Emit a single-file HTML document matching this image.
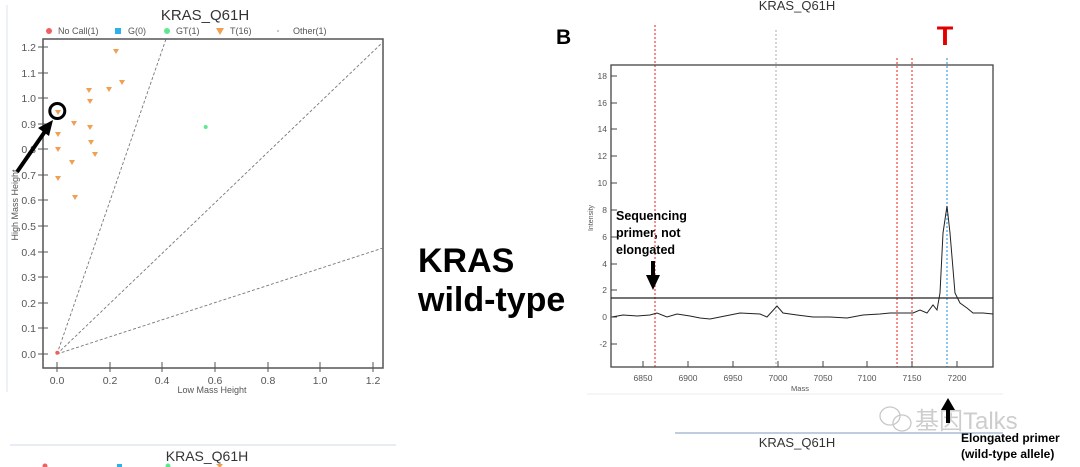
<!DOCTYPE html>
<html><head><meta charset="utf-8"><style>
html,body{margin:0;padding:0;background:#fff;}
svg{display:block;font-family:"Liberation Sans","Noto Sans CJK SC",sans-serif;}
</style></head><body>
<svg width="1080" height="467" viewBox="0 0 1080 467" xmlns="http://www.w3.org/2000/svg">
<rect width="1080" height="467" fill="#fff"/>
<!-- LEFT CHART -->
<line x1="7" y1="5" x2="7" y2="392" stroke="#dde6f0" stroke-width="1"/>
<text x="205" y="20" font-size="15" fill="#333" text-anchor="middle">KRAS_Q61H</text>
<g font-size="9" fill="#555">
<circle cx="49" cy="31" r="3" fill="#f06060"/><text x="58" y="34">No Call(1)</text>
<rect x="115" y="28" width="6" height="6" fill="#30b0e8"/><text x="128" y="34">G(0)</text>
<circle cx="167" cy="31" r="3" fill="#60e890"/><text x="176" y="34">GT(1)</text>
<path d="M216,28 L224,28 L220,35 Z" fill="#f0a050"/><text x="230" y="34">T(16)</text>
<circle cx="278" cy="31" r="0.8" fill="#888"/><text x="293" y="34">Other(1)</text>
</g>
<rect x="43" y="39" width="340" height="329" fill="none" stroke="#555" stroke-width="1.5"/>
<g stroke="#555" stroke-width="1">
<line x1="38" y1="354" x2="48" y2="354"/><line x1="38" y1="328" x2="48" y2="328"/><line x1="38" y1="303" x2="48" y2="303"/><line x1="38" y1="277" x2="48" y2="277"/><line x1="38" y1="252" x2="48" y2="252"/><line x1="38" y1="226" x2="48" y2="226"/><line x1="38" y1="200" x2="48" y2="200"/><line x1="38" y1="175" x2="48" y2="175"/><line x1="38" y1="149" x2="48" y2="149"/><line x1="38" y1="124" x2="48" y2="124"/><line x1="38" y1="98" x2="48" y2="98"/><line x1="38" y1="73" x2="48" y2="73"/><line x1="38" y1="47" x2="48" y2="47"/>
<line x1="57" y1="362" x2="57" y2="372"/><line x1="110" y1="362" x2="110" y2="372"/><line x1="162" y1="362" x2="162" y2="372"/><line x1="215" y1="362" x2="215" y2="372"/><line x1="268" y1="362" x2="268" y2="372"/><line x1="320" y1="362" x2="320" y2="372"/><line x1="373" y1="362" x2="373" y2="372"/>
</g>
<g font-size="10.5" fill="#555" text-anchor="end">
<text x="36" y="358">0.0</text><text x="36" y="332">0.1</text><text x="36" y="307">0.2</text><text x="36" y="281">0.3</text><text x="36" y="256">0.4</text><text x="36" y="230">0.5</text><text x="36" y="204">0.6</text><text x="36" y="179">0.7</text><text x="36" y="153">0.8</text><text x="36" y="128">0.9</text><text x="36" y="102">1.0</text><text x="36" y="77">1.1</text><text x="36" y="51">1.2</text>
</g>
<g font-size="10.5" fill="#555" text-anchor="middle">
<text x="57" y="384">0.0</text><text x="110" y="384">0.2</text><text x="162" y="384">0.4</text><text x="215" y="384">0.6</text><text x="268" y="384">0.8</text><text x="320" y="384">1.0</text><text x="373" y="384">1.2</text>
<text x="212" y="393" font-size="9">Low Mass Height</text>
</g>
<text transform="translate(18,205) rotate(-90)" font-size="9" fill="#555" text-anchor="middle">High Mass Height</text>
<g stroke="#777" stroke-width="0.9" stroke-dasharray="3,2" fill="none">
<line x1="57" y1="354" x2="166" y2="39"/>
<line x1="57" y1="354" x2="383" y2="42"/>
<line x1="57" y1="354" x2="383" y2="248"/>
</g>
<g fill="#f0a050">
<path d="M113,49 l6,0 l-3,5 z"/>
<path d="M119,80 l6,0 l-3,5 z"/>
<path d="M86,88 l6,0 l-3,5 z"/>
<path d="M106,87 l6,0 l-3,5 z"/>
<path d="M87,99 l6,0 l-3,5 z"/>
<path d="M55,110 l6,0 l-3,5 z"/>
<path d="M71,121 l6,0 l-3,5 z"/>
<path d="M87,125 l6,0 l-3,5 z"/>
<path d="M55,132 l6,0 l-3,5 z"/>
<path d="M88,140 l6,0 l-3,5 z"/>
<path d="M55,147 l6,0 l-3,5 z"/>
<path d="M92,152 l6,0 l-3,5 z"/>
<path d="M69,160 l6,0 l-3,5 z"/>
<path d="M55,176 l6,0 l-3,5 z"/>
<path d="M72,195 l6,0 l-3,5 z"/>
</g>
<circle cx="205.7" cy="127" r="2" fill="#60e890"/>
<circle cx="57.3" cy="352.7" r="2" fill="#f06060"/>
<circle cx="57.3" cy="111" r="7.5" fill="none" stroke="#000" stroke-width="3"/>
<line x1="17" y1="172" x2="46" y2="130" stroke="#000" stroke-width="4"/>
<path d="M53,120 L38,128 L49,136 Z" fill="#000"/>
<!-- bottom left -->
<line x1="10" y1="445" x2="396" y2="445" stroke="#cfdbe8" stroke-width="1"/>
<text x="207" y="461" font-size="14" fill="#333" text-anchor="middle">KRAS_Q61H</text>
<g><circle cx="45" cy="466" r="2.5" fill="#f06060"/><rect x="117" y="464" width="5" height="4" fill="#30b0e8"/><circle cx="168" cy="466" r="2.5" fill="#60e890"/><path d="M216,464 L223,464 L220,468Z" fill="#f0a050"/></g>
<!-- MIDDLE TEXT -->
<text x="418" y="272" font-size="34" font-weight="bold" fill="#000">KRAS</text>
<text x="418" y="311" font-size="34" font-weight="bold" fill="#000">wild-type</text>
<text x="556" y="44" font-size="21" font-weight="bold" fill="#000">B</text>
<!-- RIGHT CHART -->
<text x="797" y="10" font-size="13" fill="#333" text-anchor="middle">KRAS_Q61H</text>
<text x="945" y="45" font-size="27" font-weight="bold" fill="#e00000" text-anchor="middle">T</text>
<g stroke-dasharray="2,2" stroke-width="1.2" fill="none">
<line x1="655" y1="25" x2="655" y2="367" stroke="#f04040"/>
<line x1="776" y1="30" x2="776" y2="367" stroke="#b8b8b8"/>
<line x1="897" y1="58" x2="897" y2="367" stroke="#f04040"/>
<line x1="912" y1="58" x2="912" y2="367" stroke="#f04040"/>
<line x1="947" y1="58" x2="947" y2="367" stroke="#40a0e0"/>
</g>
<rect x="611" y="65" width="382" height="302" fill="none" stroke="#444" stroke-width="1.3"/>
<g stroke="#444" stroke-width="1">
<line x1="611" y1="76" x2="617" y2="76"/><line x1="611" y1="103" x2="617" y2="103"/><line x1="611" y1="129" x2="617" y2="129"/><line x1="611" y1="156" x2="617" y2="156"/><line x1="611" y1="183" x2="617" y2="183"/><line x1="611" y1="210" x2="617" y2="210"/><line x1="611" y1="237" x2="617" y2="237"/><line x1="611" y1="264" x2="617" y2="264"/><line x1="611" y1="290" x2="617" y2="290"/><line x1="611" y1="317" x2="617" y2="317"/><line x1="611" y1="344" x2="617" y2="344"/>
<line x1="643" y1="361" x2="643" y2="367"/><line x1="688" y1="361" x2="688" y2="367"/><line x1="733" y1="361" x2="733" y2="367"/><line x1="778" y1="361" x2="778" y2="367"/><line x1="823" y1="361" x2="823" y2="367"/><line x1="867" y1="361" x2="867" y2="367"/><line x1="912" y1="361" x2="912" y2="367"/><line x1="957" y1="361" x2="957" y2="367"/>
</g>
<g font-size="8.5" fill="#555" text-anchor="end">
<text x="607" y="79">18</text><text x="607" y="106">16</text><text x="607" y="132">14</text><text x="607" y="159">12</text><text x="607" y="186">10</text><text x="607" y="213">8</text><text x="607" y="240">6</text><text x="607" y="267">4</text><text x="607" y="293">2</text><text x="607" y="320">0</text><text x="607" y="347">-2</text>
</g>
<g font-size="8.5" fill="#555" text-anchor="middle">
<text x="643" y="381">6850</text><text x="688" y="381">6900</text><text x="733" y="381">6950</text><text x="778" y="381">7000</text><text x="823" y="381">7050</text><text x="867" y="381">7100</text><text x="912" y="381">7150</text><text x="957" y="381">7200</text>
<text x="800" y="391" font-size="7.5">Mass</text>
</g>
<text transform="translate(593,218) rotate(-90)" font-size="7" fill="#555" text-anchor="middle">Intensity</text>
<line x1="611" y1="298" x2="993" y2="298" stroke="#222" stroke-width="1.3"/>
<polyline fill="none" stroke="#222" stroke-width="1" points="612,317 623,315 637,316 650,315 657,313 667,317 677,314 690,316 700,318 710,319 720,317 740,313 760,314 767,317 777,306 783,313 797,315 813,317 830,317 847,318 863,315 880,314 890,313 913,313 920,310 927,313 933,305 937,310 940,293 943,233 947,206 950,233 955,293 960,303 967,308 973,313 983,313 993,314"/>
<text x="616" y="220" font-size="12.5" font-weight="bold" fill="#000">Sequencing</text>
<text x="616" y="237" font-size="12.5" font-weight="bold" fill="#000">primer, not</text>
<text x="616" y="254" font-size="12.5" font-weight="bold" fill="#000">elongated</text>
<rect x="651" y="261" width="4" height="15" fill="#000"/>
<path d="M646,275 L660,275 L653,290 Z" fill="#000"/>
<!-- bottom right -->
<line x1="587" y1="394" x2="1003" y2="394" stroke="#eee" stroke-width="1"/>
<line x1="675" y1="433" x2="1003" y2="433" stroke="#9aaecc" stroke-width="1.2"/>
<text x="797" y="447" font-size="13" fill="#333" text-anchor="middle">KRAS_Q61H</text>
<text x="915" y="429" font-size="24" fill="#c8c8c8" opacity="0.9">基因Talks</text>
<g fill="none" stroke="#c8c8c8" stroke-width="1.3"><ellipse cx="890" cy="416" rx="10" ry="9"/><ellipse cx="902" cy="423" rx="9" ry="8"/></g>
<rect x="946" y="409" width="4" height="14" fill="#000"/>
<path d="M941,410 L955,410 L948,398 Z" fill="#000"/>
<text x="961" y="442" font-size="12" font-weight="bold" fill="#000">Elongated primer</text>
<text x="961" y="458" font-size="12" font-weight="bold" fill="#000">(wild-type allele)</text>
</svg>
</body></html>
